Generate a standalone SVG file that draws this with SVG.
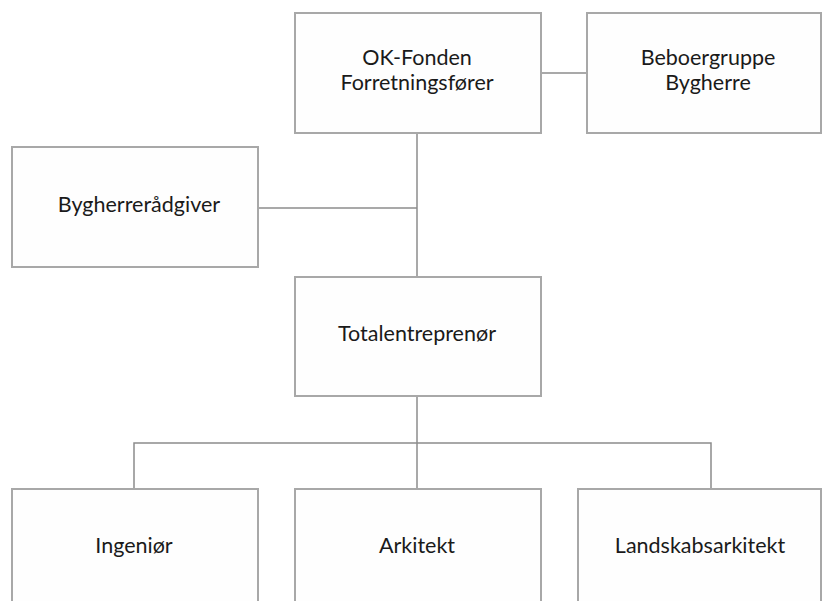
<svg xmlns="http://www.w3.org/2000/svg" width="822" height="601" viewBox="0 0 822 601">
<style>
.box{fill:#fefefe;stroke:#a8a8a8;stroke-width:2}
.ln{fill:none;stroke:#8c8c8c;stroke-width:1.5}
text{font-family:Lato,"Open Sans",sans-serif;font-size:21.5px;fill:#1a1a1a;text-anchor:middle}
</style>
<rect width="822" height="601" fill="#ffffff"/>
<g id="connectors">
<line class="ln" x1="541" y1="73" x2="587" y2="73"/>
<line class="ln" x1="417" y1="133" x2="417" y2="277"/>
<line class="ln" x1="258" y1="208" x2="417" y2="208"/>
<line class="ln" x1="417" y1="396" x2="417" y2="489"/>
<polyline class="ln" points="134,489 134,443 711,443 711,489"/>
</g>
<g id="okfonden">
<rect class="box" x="295" y="13" width="246" height="120"/>
<text x="417" y="65">OK-Fonden</text>
<text x="417" y="90">Forretningsfører</text>
</g>
<g id="beboergruppe">
<rect class="box" x="587" y="13" width="234" height="120"/>
<text x="708" y="65">Beboergruppe</text>
<text x="708" y="90">Bygherre</text>
</g>
<g id="bygherreraadgiver">
<rect class="box" x="12" y="147" width="246" height="120"/>
<text x="139" y="212">Bygherrerådgiver</text>
</g>
<g id="totalentreprenoer">
<rect class="box" x="295" y="277" width="246" height="119"/>
<text x="417" y="341">Totalentreprenør</text>
</g>
<g id="ingenioer">
<rect class="box" x="12" y="489" width="246" height="130"/>
<text x="134" y="553">Ingeniør</text>
</g>
<g id="arkitekt">
<rect class="box" x="295" y="489" width="246" height="130"/>
<text x="417" y="553">Arkitekt</text>
</g>
<g id="landskabsarkitekt">
<rect class="box" x="578" y="489" width="243" height="130"/>
<text x="700" y="553">Landskabsarkitekt</text>
</g>
</svg>
